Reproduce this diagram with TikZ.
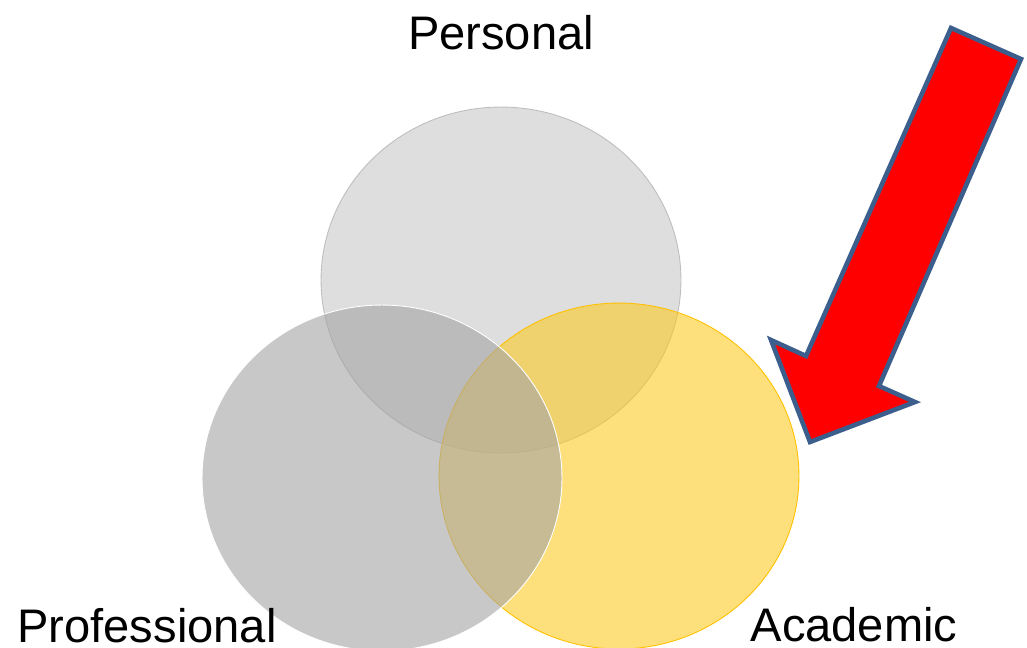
\documentclass[tikz,border=0pt]{standalone}
\usepackage{fontspec}
\setmainfont{Liberation Sans}
\usepackage{xcolor}
\usetikzlibrary{shapes.geometric}
\definecolor{persgray}{RGB}{222,222,222}
\definecolor{persedge}{RGB}{190,190,190}
\definecolor{profgray}{RGB}{165,165,165}
\definecolor{acadgold}{RGB}{252,202,29}
\definecolor{acadedge}{RGB}{255,192,0}
\definecolor{pointerred}{RGB}{255,0,0}
\definecolor{pointeredge}{RGB}{59,94,140}

\begin{document}
\begin{tikzpicture}[x=0.02cm, y=-0.02cm,
    area/.style={ellipse, minimum width=7.2cm, minimum height=6.92cm, line width=0.5pt},
    label/.style={anchor=base, inner sep=0pt, font=\fontsize{26.8}{32}\selectfont}]
    \useasboundingbox (0,0) rectangle (1027,647);
    % the three circles
    \node[area, draw=persedge, fill=persgray] (personal) at (501,280) {};
    \node[area, draw=acadedge, fill=acadgold, fill opacity=0.58] (academic) at (619,476) {};
    \node[area, draw=white, fill=profgray, fill opacity=0.61] (professional) at (382,478) {};
    % labels
    \node[label] (perstext) at (501,49) {Personal};
    \node[label] (proftext) at (147,642) {Professional};
    \node[label] (acadtext) at (854,641) {Academic};
    % pointer
    \draw[line width=2.6pt, draw=pointeredge, fill=pointerred, line join=miter]
        (951,28) -- (1021,59) -- (879,386) -- (915,402) -- (810,442) -- (771,340) -- (806,356) -- cycle;
\end{tikzpicture}
\end{document}
